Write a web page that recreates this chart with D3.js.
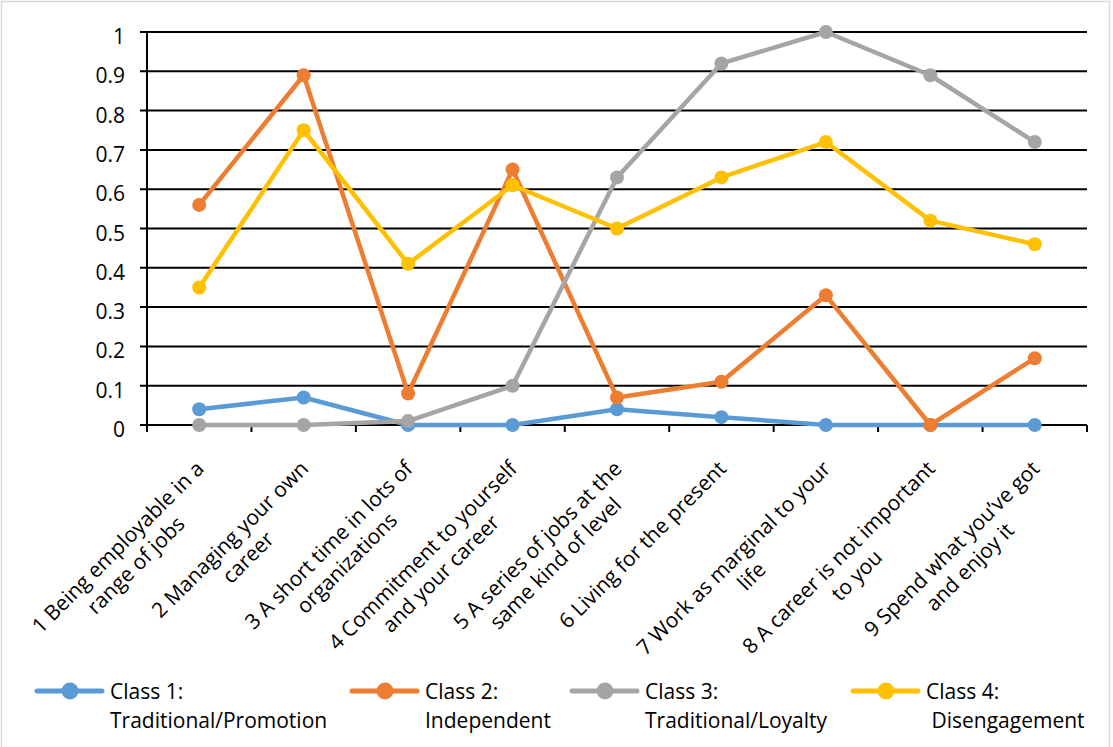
<!DOCTYPE html>
<html>
<head>
<meta charset="utf-8">
<script src="https://d3js.org/d3.v7.min.js"></script>
<style>
  html, body { margin: 0; padding: 0; background: #fff; }
  #chart { display: block; }
  text { font-family: "Open Sans", sans-serif; font-size: 21px; fill: #000; }
  .grid line { stroke: #000; stroke-width: 2px; }
  .series path { fill: none; stroke-width: 4.5px; stroke-linejoin: round; }
</style>
</head>
<body>
<svg id="chart"></svg>
<script>
// categories (each one split in two lines as in the picture)
var categories = [
  ["1 Being employable in a", "range of jobs"],
  ["2 Managing your own", "career"],
  ["3 A short time in lots of", "organizations"],
  ["4 Commitment to yourself", "and your career"],
  ["5 A series of jobs at the", "same kind of level"],
  ["6 Living for the present"],
  ["7 Work as marginal to your", "life"],
  ["8 A career is not important", "to you"],
  ["9 Spend what you\u2019ve got", "and enjoy it"]
];
var class1 = [0.04, 0.07, 0, 0, 0.04, 0.02, 0, 0, 0];
var class2 = [0.56, 0.89, 0.08, 0.65, 0.07, 0.11, 0.33, 0, 0.17];
var class3 = [0, 0, 0.01, 0.10, 0.63, 0.92, 1.0, 0.89, 0.72];
var class4 = [0.35, 0.75, 0.41, 0.61, 0.50, 0.63, 0.72, 0.52, 0.46];
var seriesNames = [["Class 1:", "Traditional/Promotion"], ["Class 2:", "Independent"],
                   ["Class 3:", "Traditional/Loyalty"], ["Class 4:", "\u00a0Disengagement"]];
var colors = ["#5B9BD5", "#ED7D31", "#A5A5A5", "#FFC000"];
var yTicks = [0, 0.1, 0.2, 0.3, 0.4, 0.5, 0.6, 0.7, 0.8, 0.9, 1];

var width = 1113, height = 747;
var plot = {left: 147, right: 1087, top: 32, bottom: 425};

var svg = d3.select("#chart")
    .attr("width", width)
    .attr("height", height);

svg.append("rect")
    .attr("x", 1.5).attr("y", 1.5)
    .attr("width", width - 5).attr("height", height + 10)
    .attr("fill", "#fff")
    .attr("stroke", "#d9d9d9")
    .attr("stroke-width", 1.5);

var keys = d3.range(categories.length);
var x = d3.scaleBand().domain(keys).range([plot.left, plot.right]);
var y = d3.scaleLinear().domain([0, 1]).range([plot.bottom, plot.top]);
var cx = i => x(i) + x.bandwidth() / 2;

// horizontal gridlines
svg.append("g").attr("class", "grid")
  .selectAll("line")
  .data(yTicks)
  .enter().append("line")
    .attr("x1", plot.left - 7)
    .attr("x2", plot.right)
    .attr("y1", d => y(d))
    .attr("y2", d => y(d));

// y axis line + labels
svg.append("line")
    .attr("x1", plot.left).attr("x2", plot.left)
    .attr("y1", y(1)).attr("y2", y(0) + 7)
    .attr("stroke", "#000").attr("stroke-width", 2);

svg.append("g").selectAll("text")
  .data(yTicks)
  .enter().append("text")
    .attr("x", plot.left - 22)
    .attr("y", d => y(d) + 12)
    .attr("text-anchor", "end")
    .text(d => d3.format("~g")(d));

// x ticks at band edges
var edges = keys.map(i => x(i)).concat([plot.right]);
svg.append("g").selectAll("line")
  .data(edges)
  .enter().append("line")
    .attr("x1", d => d).attr("x2", d => d)
    .attr("y1", y(0)).attr("y2", y(0) + 7)
    .attr("stroke", "#000").attr("stroke-width", 2);

// rotated category labels
var labels = svg.append("g").selectAll("g")
  .data(categories)
  .enter().append("g")
    .attr("transform", (d, i) => "translate(" + (cx(i) + 6) + ",470) rotate(-45)");

labels.each(function(lines) {
  var g = d3.select(this);
  var first = g.append("text").attr("text-anchor", "end").text(lines[0]);
  var w = first.node().getComputedTextLength();
  if (lines[1]) {
    g.append("text")
      .attr("text-anchor", "middle")
      .attr("x", -w / 2)
      .attr("y", 25.5)
      .text(lines[1]);
  }
});

// series
var allSeries = [class1, class2, class3, class4];
var line = d3.line()
    .x((d, i) => cx(i))
    .y(d => y(d));

allSeries.forEach(function(values, s) {
  var g = svg.append("g").attr("class", "series");
  g.append("path")
      .datum(values)
      .attr("stroke", colors[s])
      .attr("d", line);
  g.selectAll("circle")
    .data(values)
    .enter().append("circle")
      .attr("cx", (d, i) => cx(i))
      .attr("cy", d => y(d))
      .attr("r", 7)
      .attr("fill", colors[s]);
});

// legend
var legendX = [37, 352, 572, 853];
var legend = svg.append("g").selectAll("g")
  .data(seriesNames)
  .enter().append("g")
    .attr("transform", (d, i) => "translate(" + legendX[i] + ",691)");

legend.append("line")
    .attr("x1", 0).attr("x2", 65)
    .attr("stroke", (d, i) => colors[i])
    .attr("stroke-width", 5)
    .attr("stroke-linecap", "round");
legend.append("circle")
    .attr("cx", 33).attr("r", 8.5)
    .attr("fill", (d, i) => colors[i]);
legend.append("text")
    .attr("x", 73).attr("y", 8)
    .text(d => d[0]);
legend.append("text")
    .attr("x", 73).attr("y", 37)
    .text(d => d[1]);
</script>
</body>
</html>
